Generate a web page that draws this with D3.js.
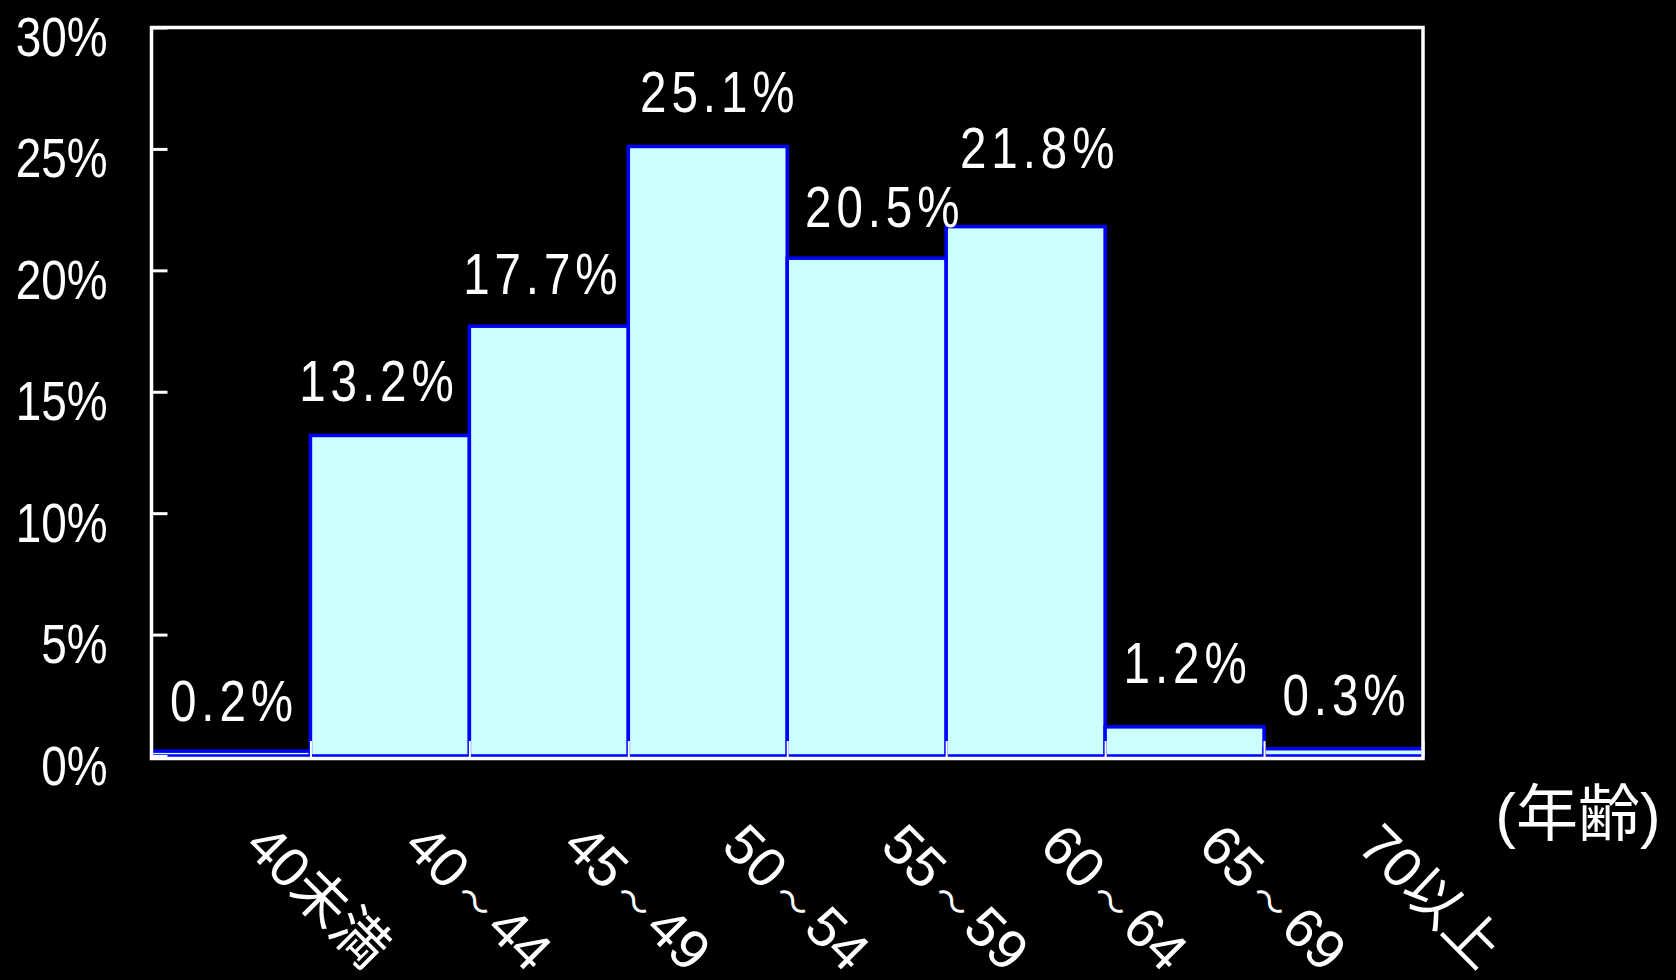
<!DOCTYPE html>
<html lang="ja">
<head>
    <meta charset="UTF-8">
    <title>年齢分布</title>
    <script src="https://d3js.org/d3.v7.min.js"></script>
    <style>
        body {
            margin: 0;
            padding: 0;
            background-color: #000;
        }

        svg {
            display: block;
            background-color: #000;
        }

        text {
            font-family: "Liberation Sans", Arial, "Noto Sans CJK JP", sans-serif;
            fill: #fff;
        }
    </style>
</head>
<body>
    <svg id="chart" width="1676" height="980"></svg>

    <script>
        // age bands and their share (%)
        const categories = ["40未満", "40～44", "45～49", "50～54", "55～59", "60～64", "65～69", "70以上"];
        const shares = [0.2, 13.2, 17.7, 25.1, 20.5, 21.8, 1.2, 0.3];
        const shareLabels = ["0.2%", "13.2%", "17.7%", "25.1%", "20.5%", "21.8%", "1.2%", "0.3%"];
        const yTicks = [0, 5, 10, 15, 20, 25, 30];
        const axisTitle = "(年齢)";

        const plotLeft = 151.5, plotRight = 1423, plotTop = 27.5, plotBottom = 756;
        const squeeze = 0.82;
        // the value labels were hand-placed in the original, a few sit off-centre
        const labelShift = {
            "40～44": [-14, 0], "45～49": [-9, 2], "50～54": [9, 0],
            "55～59": [15, 3], "60～64": [11, -25], "65～69": [0, -10], "40未満": [0, 4]
        };

        const svg = d3.select("#chart");

        const x = d3.scaleBand()
            .domain(categories)
            .range([plotLeft, plotRight])
            .padding(0);

        const y = d3.scaleLinear()
            .domain([0, 30])
            .range([plotBottom, plotTop]);

        // boundaries between bands, for the little inner tick marks
        const xEdges = d3.scaleLinear()
            .domain([0, categories.length])
            .range([plotLeft, plotRight]);

        // bars
        svg.append("g")
            .selectAll("rect")
            .data(shares)
            .join("rect")
            .attr("x", (d, i) => x(categories[i]))
            .attr("y", d => y(d))
            .attr("width", x.bandwidth())
            .attr("height", d => y(0) - y(d))
            .attr("fill", "#ccffff")
            .attr("stroke", "#0000ff")
            .attr("stroke-width", 3.5);

        // inner ticks on the bottom axis
        const edgeAxis = svg.append("g")
            .attr("transform", `translate(0,${plotBottom + 1})`)
            .call(d3.axisBottom(xEdges).ticks(categories.length).tickSize(-16).tickFormat(""));
        edgeAxis.select(".domain").remove();
        edgeAxis.selectAll("line").attr("stroke", "#fff").attr("stroke-width", 2);

        // y axis with ticks pointing inward
        const yAxis = svg.append("g")
            .attr("transform", `translate(${plotLeft},0)`)
            .call(d3.axisLeft(y).tickValues(yTicks).tickSize(-16).tickFormat(d => d + "%"));
        yAxis.select(".domain").remove();
        yAxis.selectAll("line").attr("stroke", "#fff").attr("stroke-width", 3);
        yAxis.selectAll("text")
            .attr("x", 0)
            .attr("dy", null)
            .attr("y", 0)
            .attr("text-anchor", "end")
            .attr("fill", "#fff")
            .attr("font-size", 56)
            .attr("transform", `translate(-44,28) scale(${squeeze},1)`);

        // frame
        svg.append("rect")
            .attr("x", plotLeft)
            .attr("y", plotTop)
            .attr("width", plotRight - plotLeft)
            .attr("height", plotBottom + 2.5 - plotTop)
            .attr("fill", "none")
            .attr("stroke", "#fff")
            .attr("stroke-width", 3.5);

        // category labels, slanted; the wave dash is set smaller with air round it
        const xAxis = svg.append("g")
            .attr("transform", `translate(0,${plotBottom})`)
            .call(d3.axisBottom(x).tickSize(0));
        xAxis.select(".domain").remove();
        xAxis.selectAll("text")
            .attr("x", 0)
            .attr("y", 0)
            .attr("dy", null)
            .attr("text-anchor", "start")
            .attr("fill", "#fff")
            .attr("font-size", 56)
            .attr("transform", "translate(12,92) rotate(45)")
            .each(function (d) {
                const parts = d.split("～");
                if (parts.length < 2) return;
                const t = d3.select(this).text(null);
                t.append("tspan").text(parts[0]);
                t.append("tspan").attr("font-size", 36).attr("dx", 9).text("～");
                t.append("tspan").attr("dx", 9).text(parts[1]);
            });

        // value labels
        svg.append("g")
            .selectAll("text")
            .data(shares)
            .join("text")
            .attr("text-anchor", "middle")
            .attr("font-size", 58)
            .attr("letter-spacing", 6)
            .attr("transform", (d, i) => {
                const s = labelShift[categories[i]] || [0, 0];
                const cx = x(categories[i]) + x.bandwidth() / 2 + 3 + s[0];
                return `translate(${cx},${y(d) - 34 + s[1]}) scale(${squeeze},1)`;
            })
            .text((d, i) => shareLabels[i]);

        svg.append("text")
            .attr("x", 1578)
            .attr("y", 836)
            .attr("text-anchor", "middle")
            .attr("font-size", 62)
            .text(axisTitle);
    </script>
</body>
</html>
